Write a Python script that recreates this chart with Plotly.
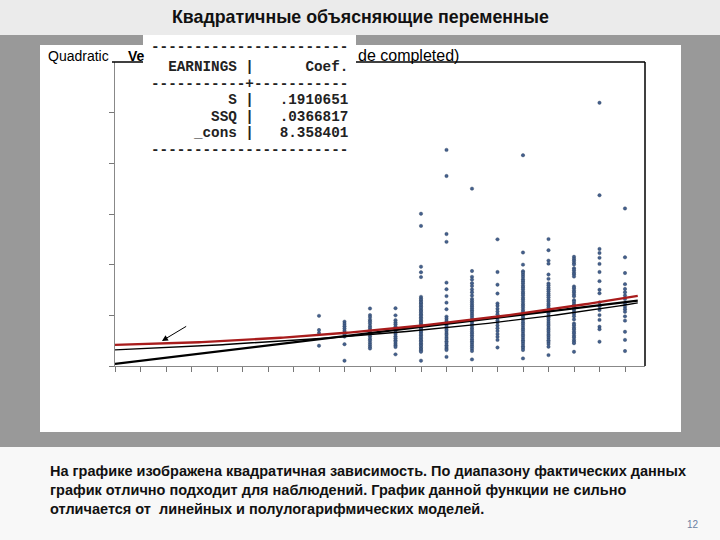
import numpy as np
import plotly.graph_objects as go

# ---------------- data ----------------
SCHOOLING = [8, 9, 10, 11, 12, 13, 14, 15, 16, 17, 18, 19, 20]
EARN_S08 = [19.8, 14.2, 13.0, 8.0]
EARN_S09 = [17.5, 16.6, 15.7, 14.8, 13.9, 13.1, 12.4, 11.6, 8.6, 2.1]
EARN_S10 = [22.7, 20.1, 19.3, 18.3, 17.6, 16.8, 15.8, 15.1, 14.3, 13.3, 12.6, 11.7, 10.8, 10.1, 9.2, 8.4, 7.6, 6.9]
EARN_S11 = [22.8, 20.0, 18.1, 17.2, 16.5, 15.6, 14.8, 14.1, 13.2, 12.6, 11.7, 11.0, 10.2, 9.6, 8.8, 8.1, 7.5, 4.6]
EARN_S12 = [60.1, 55.3, 39.2, 37.0, 35.1, 27.3, 26.6, 26.0, 25.3, 24.8, 24.1, 23.5, 22.9, 22.2, 21.7, 21.1, 20.4,
            19.9, 19.2, 18.7, 18.0, 17.5, 16.9, 16.2, 15.7, 15.0, 14.5, 13.8, 13.3, 12.6, 12.1, 11.4, 10.9, 10.2,
            9.7, 9.0, 8.4, 7.9, 7.2, 6.7, 6.1, 5.6, 2.1]
EARN_S13 = [85.3, 75.0, 52.1, 49.0, 32.9, 30.3, 27.6, 25.0, 22.4, 19.5, 18.7, 17.8, 17.1, 16.2, 15.5, 14.6, 13.9,
            13.0, 12.3, 11.4, 10.7, 9.8, 9.1, 8.2, 7.5, 6.8, 6.3, 3.6]
EARN_S14 = [70.0, 37.5, 35.2, 34.1, 32.7, 31.6, 30.2, 29.1, 27.8, 26.5, 25.8, 25.1, 24.3, 23.6, 22.8, 22.0, 21.3,
            20.5, 19.8, 19.0, 18.2, 17.5, 16.7, 16.0, 15.1, 14.4, 13.6, 12.9, 12.1, 11.4, 10.6, 9.8, 9.1, 8.3,
            7.6, 6.8, 5.9, 2.6]
EARN_S15 = [50.0, 37.1, 32.1, 28.6, 24.7, 23.8, 22.6, 21.5, 20.4, 19.2, 18.1, 17.2, 16.0, 14.9, 13.8, 12.6, 11.5,
            10.3, 7.3]
EARN_S16 = [83.2, 44.8, 40.0, 37.4, 36.7, 35.9, 35.1, 34.2, 33.5, 32.7, 31.8, 31.1, 30.3, 29.4, 28.7, 27.9, 27.0,
            26.3, 25.5, 24.6, 23.9, 23.1, 22.2, 21.5, 20.7, 19.8, 19.1, 18.3, 17.4, 16.7, 15.9, 15.0, 14.3, 13.5,
            12.6, 11.9, 11.1, 10.2, 9.5, 8.7, 7.8, 7.1, 6.3, 3.0]
EARN_S17 = [50.1, 45.7, 41.6, 40.4, 36.1, 34.4, 32.6, 31.9, 31.0, 30.3, 29.5, 28.6, 27.9, 27.1, 26.2, 25.5, 24.6,
            23.9, 23.1, 22.2, 21.5, 20.7, 19.8, 19.1, 18.3, 17.4, 16.6, 15.9, 15.0, 14.3, 13.5, 12.6, 11.9, 11.1,
            10.2, 9.5, 8.7, 7.6, 4.3]
EARN_S18 = [43.1, 42.3, 41.6, 40.8, 40.1, 38.6, 37.8, 36.9, 36.2, 35.3, 31.4, 30.7, 29.8, 29.1, 28.2, 27.5, 26.0,
            25.3, 24.4, 23.7, 22.8, 22.1, 21.2, 20.5, 19.6, 18.4, 16.8, 16.1, 15.2, 14.5, 13.6, 12.9, 12.0, 11.3,
            10.4, 9.7, 9.0, 5.6]
EARN_S19 = [103.9, 67.4, 46.2, 44.6, 42.7, 40.3, 37.1, 33.5, 30.1, 28.7, 25.1, 23.6, 22.1, 20.1, 18.2, 15.5, 14.5, 9.6]
EARN_S20 = [62.2, 42.9, 36.7, 32.3, 30.4, 29.1, 27.8, 26.4, 24.7, 23.4, 22.4, 21.4, 19.6, 17.9, 13.5, 10.3, 5.9]
EARN_COLUMNS = [EARN_S08, EARN_S09, EARN_S10, EARN_S11, EARN_S12, EARN_S13, EARN_S14,
                EARN_S15, EARN_S16, EARN_S17, EARN_S18, EARN_S19, EARN_S20]

# fitted models
QUAD_COEF = [8.358401, 0.1910651, 0.0366817]   # _cons, S, SSQ
LINEAR_COEF = [0.8, 1.22]                        # intercept, slope
SEMILOG_COEF = [1.848, 0.0667]                   # ln(EARNINGS) = a + b S
S_MAX_LINE = 20.5

TABLE_LINES = [
    "-----------------------",
    "  EARNINGS |      Coef.",
    "-----------+-----------",
    "         S |   .1910651",
    "       SSQ |   .0366817",
    "     _cons |   8.358401",
    "-----------------------",
]
TITLE = "Квадратичные объясняющие переменные"
BODY = ["На графике изображена квадратичная зависимость. По диапазону фактических данных",
        "график отлично подходит для наблюдений. График данной функции не сильно",
        "отличается от  линейных и полулогарифмических моделей."]
PAGE = "12"

# ---------------- layout geometry (pixels) ----------------
W, H = 720, 540
PL, PR, PT, PB = 115, 645, 62, 366


def px(x):
    return (x - PL) / (PR - PL)


def py(y):
    return (PB - y) / (PB - PT)


xs, ys = [], []
for s, col in zip(SCHOOLING, EARN_COLUMNS):
    xs += [s] * len(col)
    ys += col

grid = np.linspace(0, S_MAX_LINE, 200)
quad = QUAD_COEF[0] + QUAD_COEF[1] * grid + QUAD_COEF[2] * grid ** 2
lin = LINEAR_COEF[0] + LINEAR_COEF[1] * grid
semi = np.exp(SEMILOG_COEF[0] + SEMILOG_COEF[1] * grid)

fig = go.Figure()
fig.add_trace(go.Scatter(x=xs, y=ys, mode="markers",
                         marker=dict(size=3.4, color="#44608e", line=dict(width=0.4, color="#2c3e5c")),
                         showlegend=False, hoverinfo="skip"))
fig.add_trace(go.Scatter(x=grid, y=semi, mode="lines", line=dict(color="black", width=1.4),
                         showlegend=False, hoverinfo="skip"))
fig.add_trace(go.Scatter(x=grid, y=lin, mode="lines", line=dict(color="black", width=2.3),
                         showlegend=False, hoverinfo="skip"))
fig.add_trace(go.Scatter(x=grid, y=quad, mode="lines", line=dict(color="#a81c1c", width=2.4),
                         showlegend=False, hoverinfo="skip"))

shapes = [
    # slide bands
    dict(type="rect", xref="paper", yref="paper", x0=px(0), x1=px(W), y0=py(0), y1=py(35),
         fillcolor="#ebebeb", line=dict(width=0), layer="below"),
    dict(type="rect", xref="paper", yref="paper", x0=px(0), x1=px(W), y0=py(35), y1=py(447),
         fillcolor="#999999", line=dict(width=0), layer="below"),
    dict(type="rect", xref="paper", yref="paper", x0=px(40), x1=px(681), y0=py(45), y1=py(432),
         fillcolor="white", line=dict(width=0), layer="below"),
    # frame top/right
    dict(type="line", xref="paper", yref="paper", x0=px(112), x1=px(PR), y0=1, y1=1,
         line=dict(color="black", width=1.5)),
    dict(type="line", xref="paper", yref="paper", x0=1, x1=1, y0=0, y1=1,
         line=dict(color="black", width=1.5)),
]

annotations = [
    dict(xref="paper", yref="paper", x=0.5 * (px(0) + px(W)), y=py(17), text="<b>" + TITLE + "</b>",
         showarrow=False, xanchor="center", yanchor="middle",
         font=dict(family="Liberation Sans, Arial", size=17.8, color="#111")),
    dict(xref="paper", yref="paper", x=px(111), y=py(56), text="Quadratic",
         showarrow=False, xanchor="right", yanchor="middle",
         font=dict(family="Liberation Sans, Arial", size=14, color="black")),
    dict(xref="paper", yref="paper", x=px(126), y=py(56), text="<b>Ve</b>",
         showarrow=False, xanchor="left", yanchor="middle",
         font=dict(family="Liberation Sans, Arial", size=14, color="black")),
    dict(xref="paper", yref="paper", x=px(356), y=py(55), text="de completed)",
         showarrow=False, xanchor="left", yanchor="middle",
         font=dict(family="Liberation Sans, Arial", size=16, color="black")),
]

# table box
shapes.append(dict(type="rect", xref="paper", yref="paper", x0=px(143), x1=px(356), y0=py(35), y1=py(160),
                   fillcolor="white", line=dict(width=0)))
table_y = [47, 67, 84, 100, 117, 133, 150]
for txt, yy in zip(TABLE_LINES, table_y):
    annotations.append(dict(xref="paper", yref="paper", x=px(149), y=py(yy),
                            text="<b>" + txt.replace(" ", "\u00a0") + "</b>",
                            showarrow=False, xanchor="left", yanchor="middle",
                            font=dict(family="Liberation Mono, Courier New", size=14.3, color="#222")))

# arrow
annotations.append(dict(x=1.84, y=9.9, ax=2.85, ay=16.0, xref="x", yref="y", axref="x", ayref="y",
                        showarrow=True, arrowhead=2, arrowsize=1.2, arrowwidth=1, arrowcolor="black", text=""))

# body text
for txt, yy in zip(BODY, [471, 490, 509]):
    annotations.append(dict(xref="paper", yref="paper", x=px(48), y=py(yy), text="<b>" + txt + "</b>",
                            showarrow=False, xanchor="left", yanchor="middle",
                            font=dict(family="Liberation Sans, Arial", size=14.5, color="#111")))
annotations.append(dict(xref="paper", yref="paper", x=px(693), y=py(524), text=PAGE,
                        showarrow=False, xanchor="center", yanchor="middle",
                        font=dict(family="Liberation Sans, Arial", size=10, color="#6b7fa3")))

fig.update_layout(
    width=W, height=H,
    margin=dict(l=PL, r=W - PR, t=PT, b=H - PB, pad=0),
    paper_bgcolor="#f8f8f8", plot_bgcolor="rgba(0,0,0,0)",
    shapes=shapes, annotations=annotations, showlegend=False,
    xaxis=dict(range=[0, (PR - PL) / 25.5], tick0=0, dtick=1, ticks="outside", ticklen=5,
               tickcolor="#777", showticklabels=False, showline=True, linecolor="#888", linewidth=1,
               showgrid=False, zeroline=False, fixedrange=True),
    yaxis=dict(range=[0, 120], tickvals=[0, 20, 40, 60, 80, 100], ticks="outside", ticklen=5,
               tickcolor="#777", showticklabels=False, showline=True, linecolor="#888", linewidth=1,
               showgrid=False, zeroline=False, fixedrange=True),
)

fig.write_html("out.html")
